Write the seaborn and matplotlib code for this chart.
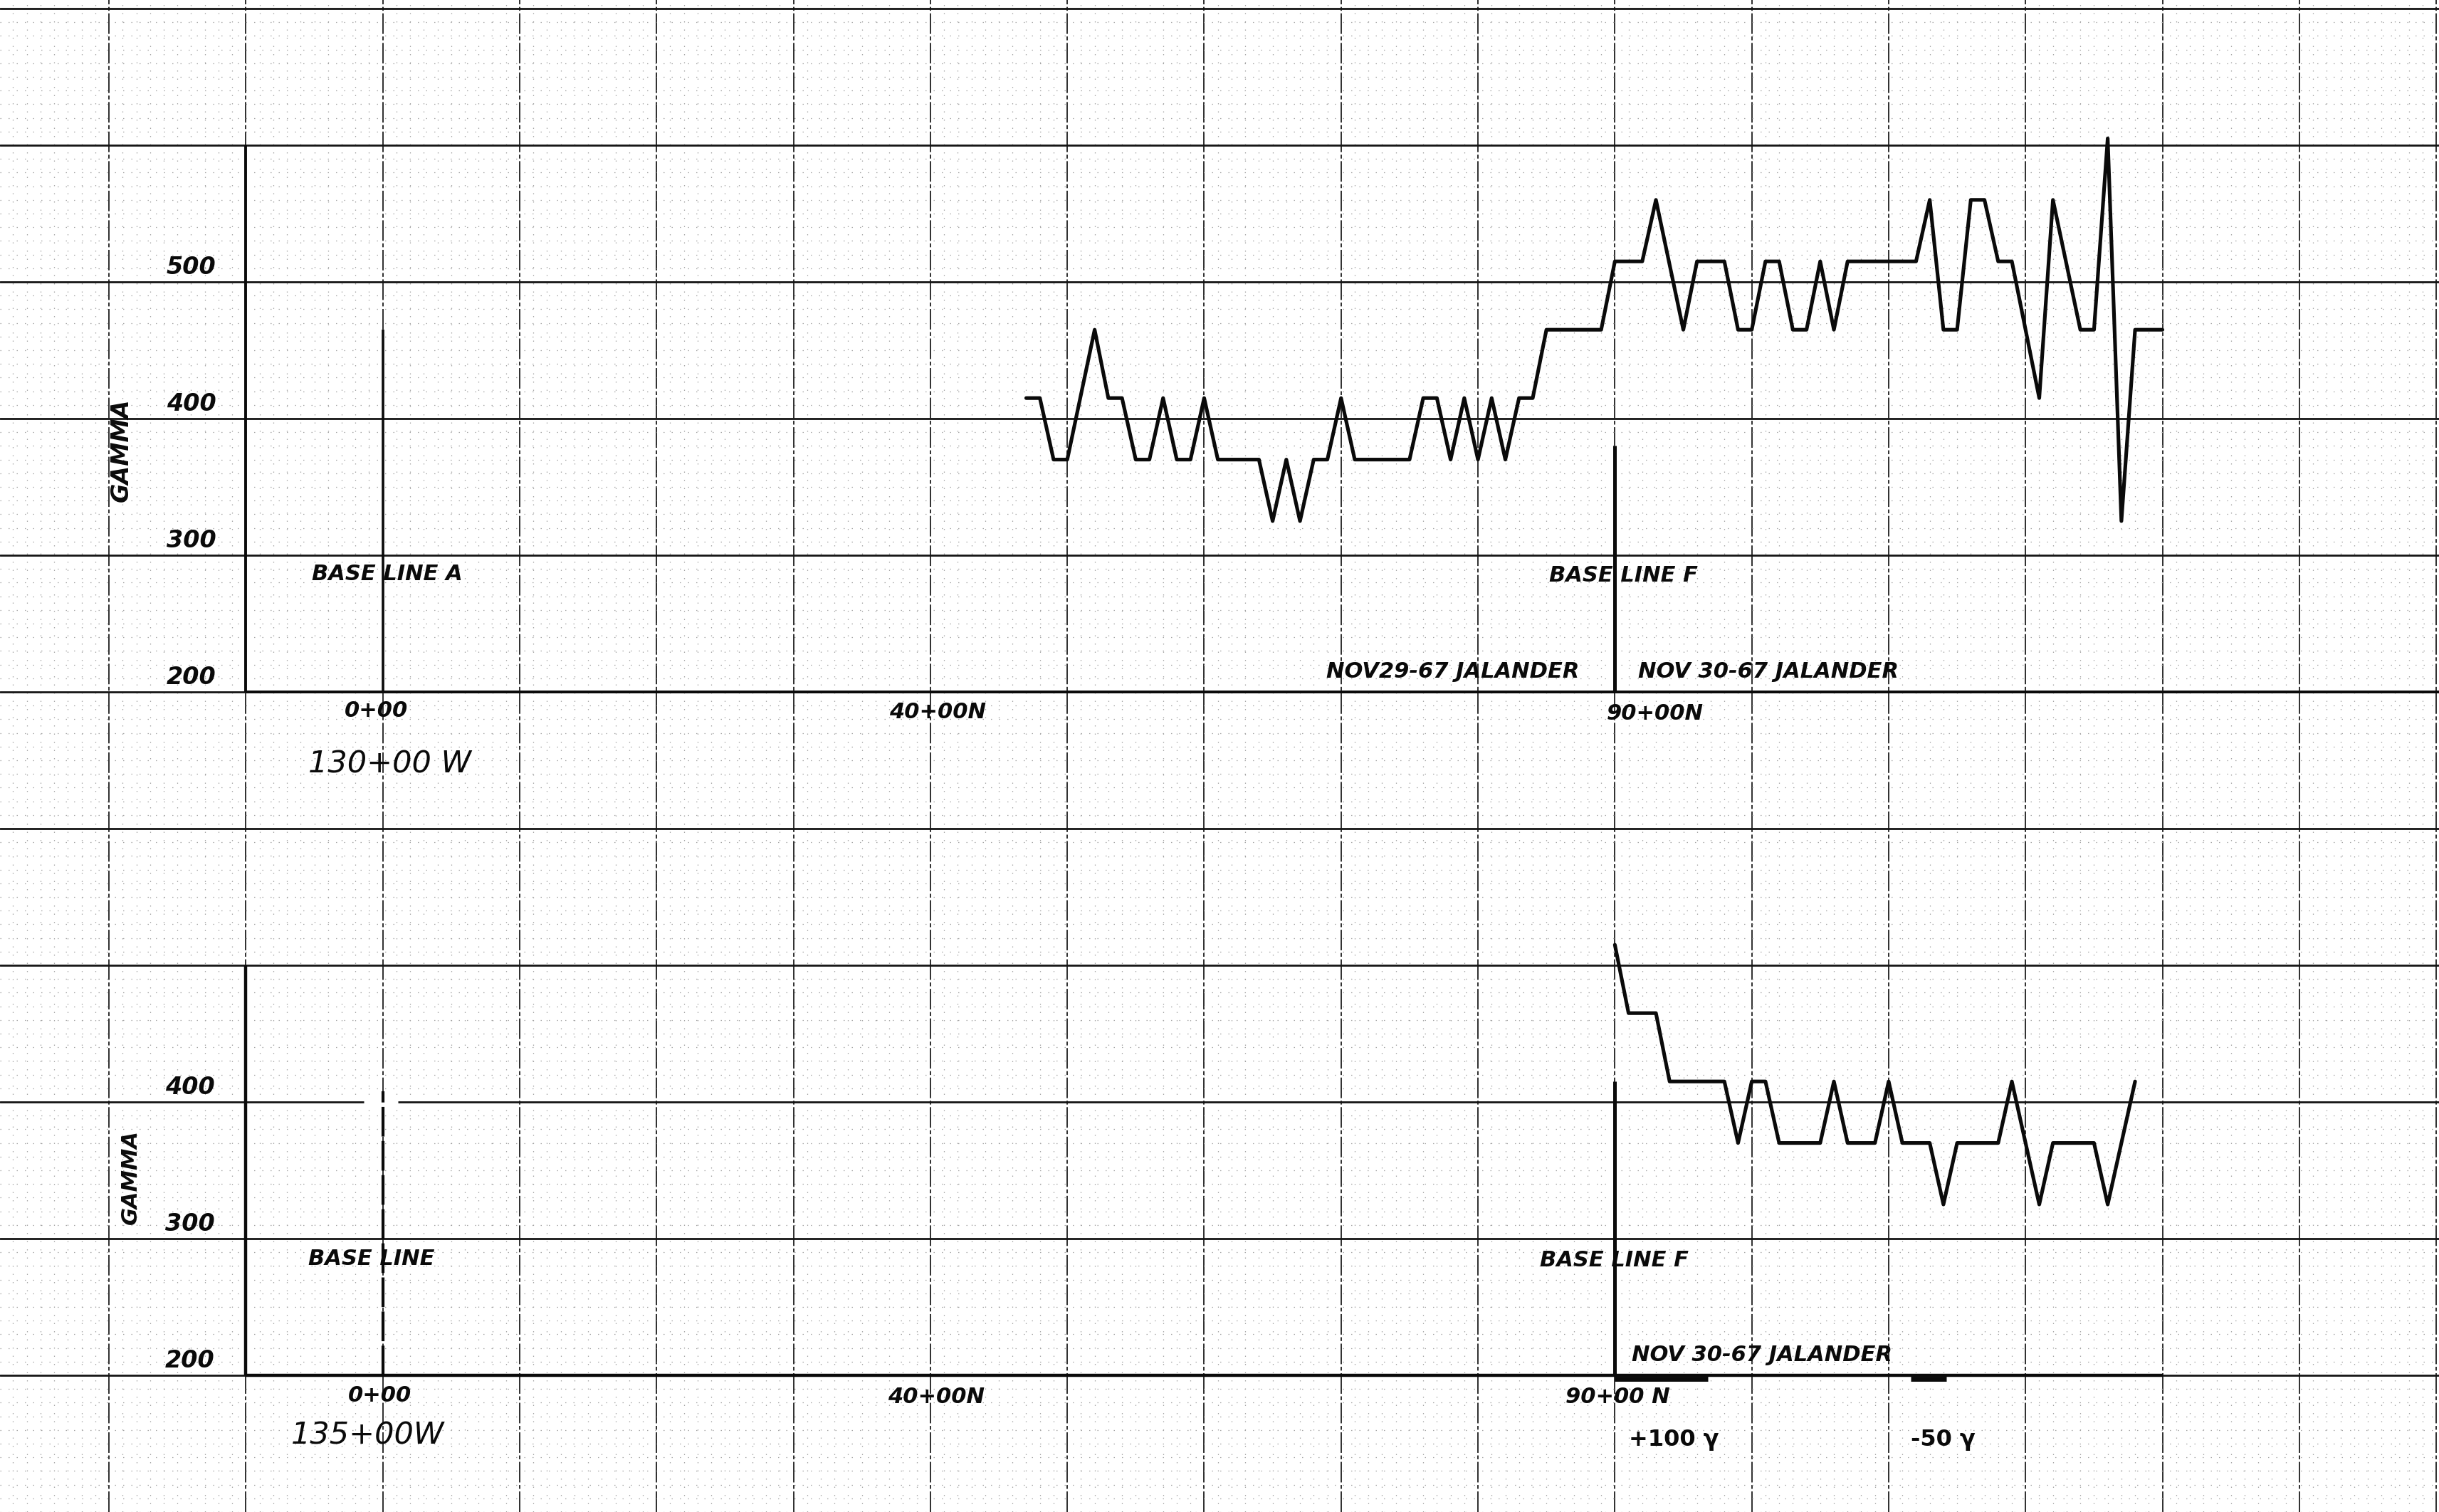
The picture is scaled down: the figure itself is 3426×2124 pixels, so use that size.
import numpy as np
import pandas as pd
import matplotlib
matplotlib.use("Agg")
import matplotlib.pyplot as plt
import seaborn as sns

# Line 130+00 W, base line A (Nov 29 / Nov 30 1967): station (x100 ft N) and total field (gamma)
upper_station = [47, 48, 49, 50, 52, 53, 54, 55, 56, 57, 58, 59, 60, 61, 64, 65, 66, 67,
                 68, 69, 70, 71, 75, 76, 77, 78, 79, 80, 81, 82, 83, 84, 85, 89, 90, 92,
                 93, 95, 96, 98, 99, 100, 101, 102, 103, 104, 105, 106, 107, 112, 113, 114,
                 115, 116, 117, 118, 119, 121, 122, 124, 125, 126, 127, 128, 130]
upper_gamma = [415, 415, 370, 370, 465, 415, 415, 370, 370, 415, 370, 370, 415, 370, 370, 325, 370, 325,
               370, 370, 415, 370, 370, 415, 415, 370, 415, 370, 415, 370, 415, 415, 465, 465, 515, 515,
               560, 465, 515, 515, 465, 465, 515, 515, 465, 465, 515, 465, 515, 515, 560, 465,
               465, 560, 560, 515, 515, 415, 560, 465, 465, 605, 325, 465, 465]

# Line 135+00 W, base line F (Nov 30 1967)
lower_station = [90, 91, 93, 94, 98, 99, 100, 101, 102, 105, 106, 107, 109, 110, 111, 113,
                 114, 115, 118, 119, 121, 122, 125, 126, 128]
lower_gamma = [515, 465, 465, 415, 415, 370, 415, 415, 370, 370, 415, 370, 370, 415, 370, 370,
               325, 370, 370, 415, 325, 370, 370, 325, 415]

gamma_ticks_upper = [200, 300, 400, 500]
gamma_ticks_lower = [200, 300, 400]

upper = pd.DataFrame({"station": upper_station, "gamma": upper_gamma})
lower = pd.DataFrame({"station": lower_station, "gamma": lower_gamma})

sns.set_style("white")
plt.rcParams["font.family"] = ["DejaVu Sans"]

fig = plt.figure(figsize=(34.26, 21.24), dpi=100)
fig.patch.set_facecolor("white")

X0, X1 = -27.96, 150.2
ax = fig.add_axes([0, 0, 1, 1])
ax.set_xlim(X0, X1)
ax.set_ylim(-400, 706.25)

ax_lo = fig.add_axes([0, 0, 1, 1])
ax_lo.set_xlim(X0, X1)
ax_lo.set_ylim(100, 1206.25)
ax_lo.patch.set_alpha(0)
ax_lo.axis("off")

# graph-paper grid
ax.set_xticks(np.arange(-20, 151, 10))
ax.set_yticks(np.arange(-300, 701, 100))
ax.set_xticks(np.arange(-27, 151, 1), minor=True)
ax.set_yticks(np.arange(-400, 701, 10), minor=True)
ax.tick_params(which="both", length=0, labelbottom=False, labelleft=False)
for s in ax.spines.values():
    s.set_visible(False)
ax.grid(which="minor", color="#a6a6a6", lw=0.9, ls=(0, (1.2, 8)))
ax.grid(which="major", axis="y", color="#141414", lw=2.0, ls="-")
ax.grid(which="major", axis="x", color="#1e1e1e", lw=1.3, ls=(0, (16, 2, 3, 2)))
ax.set_axisbelow(True)

ink = "#0a0a0a"

# drawn axes of the upper profile
ax.vlines(-10, 200, 600, color=ink, lw=2.8)
ax.hlines(200, -10, X1, color=ink, lw=2.8)
ax.vlines(0, 200, 465, color=ink, lw=2.6)
ax.vlines(90, 200, 380, color=ink, lw=3.6)

# drawn axes of the lower profile
ax_lo.vlines(-10, 200, 500, color=ink, lw=3.2)
ax_lo.hlines(200, -10, 130, color=ink, lw=3.2)
ax_lo.hlines(400, -1.4, 1.1, color="white", lw=5)
ax_lo.vlines(0, 200, 408, color=ink, lw=3.0, ls=(0, (10, 1.5)))
ax_lo.vlines(90, 200, 415, color=ink, lw=3.6)
# scale bars
ax_lo.hlines(197.5, 90, 96.8, color=ink, lw=5)
ax_lo.hlines(197.5, 111.6, 114.2, color=ink, lw=5)

# profiles
sns.lineplot(data=upper, x="station", y="gamma", ax=ax, color=ink, lw=3.7,
             estimator=None, sort=False, legend=False)
sns.lineplot(data=lower, x="station", y="gamma", ax=ax_lo, color=ink, lw=3.7,
             estimator=None, sort=False, legend=False)
ax.set_xlabel("")
ax.set_ylabel("")
ax.set_xlim(X0, X1)
ax.set_ylim(-400, 706.25)
ax_lo.set_xlim(X0, X1)
ax_lo.set_ylim(100, 1206.25)

lab = dict(color=ink, style="italic", fontweight="bold")

# gamma scale labels
for g in gamma_ticks_upper:
    ax.text(-14.0, g + 2, f"{g}", fontsize=24, ha="center", va="bottom", **lab)
for g in gamma_ticks_lower:
    ax_lo.text(-14.1, g + 2, f"{g}", fontsize=24, ha="center", va="bottom", **lab)
ax.text(-19.1, 377, "GAMMA", fontsize=24, rotation=90, ha="center", va="center", **lab)
ax_lo.text(-18.4, 345, "GAMMA", fontsize=22, rotation=90, ha="center", va="center", **lab)

# upper profile annotations
ax.text(-5.2, 286, "BASE LINE A", fontsize=22, ha="left", va="center", **lab)
ax.text(-0.45, 186, "0+00", fontsize=22, ha="center", va="center", **lab)
ax.text(-5.45, 147, "130+00 W", fontsize=31, ha="left", va="center", color=ink,
        style="italic")
ax.text(37.0, 185, "40+00N", fontsize=22, ha="left", va="center", **lab)
ax.text(89.4, 184, "90+00N", fontsize=22, ha="left", va="center", **lab)
ax.text(85.2, 285, "BASE LINE F", fontsize=22, ha="left", va="center", **lab)
ax.text(68.9, 215, "NOV29-67 JALANDER", fontsize=22, ha="left", va="center", **lab)
ax.text(91.7, 215, "NOV 30-67 JALANDER", fontsize=22, ha="left", va="center", **lab)

# lower profile annotations
ax_lo.text(-5.45, 285, "BASE LINE", fontsize=22, ha="left", va="center", **lab)
ax_lo.text(84.5, 284, "BASE LINE F", fontsize=22, ha="left", va="center", **lab)
ax_lo.text(-0.2, 185, "0+00", fontsize=22, ha="center", va="center", **lab)
ax_lo.text(-6.7, 156, "135+00W", fontsize=31, ha="left", va="center", color=ink,
           style="italic")
ax_lo.text(36.9, 184, "40+00N", fontsize=22, ha="left", va="center", **lab)
ax_lo.text(86.4, 184, "90+00 N", fontsize=22, ha="left", va="center", **lab)
ax_lo.text(91.25, 215, "NOV 30-67 JALANDER", fontsize=22, ha="left", va="center", **lab)
ax_lo.text(91.0, 153, "+100 γ", fontsize=23, ha="left", va="center", color=ink,
           fontweight="bold")
ax_lo.text(111.6, 153, "-50 γ", fontsize=23, ha="left", va="center", color=ink,
           fontweight="bold")

fig.savefig("out.png", dpi=100, facecolor="white")
